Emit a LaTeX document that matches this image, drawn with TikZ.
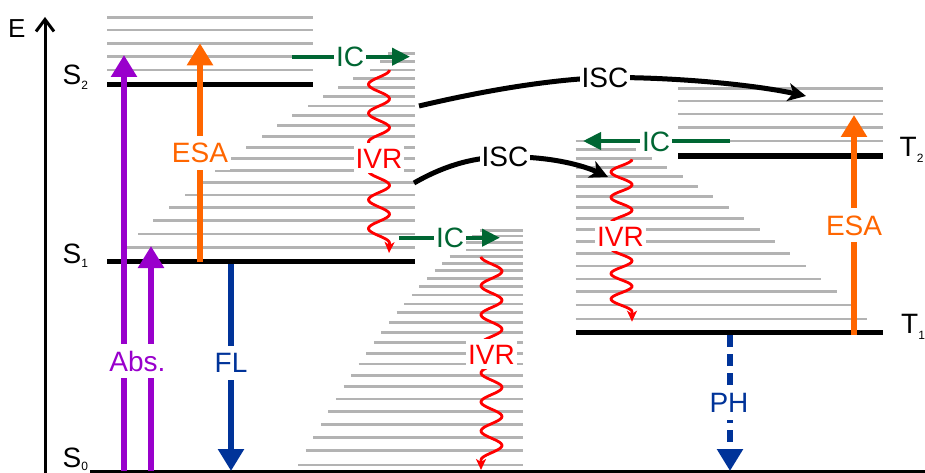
\documentclass[tikz,border=0pt]{standalone}
\usepackage{fontspec}
\setmainfont{Liberation Sans}
\usetikzlibrary{arrows.meta}

\definecolor{absviolet}{HTML}{9900CC}
\definecolor{esaorange}{HTML}{FF6600}
\definecolor{emblue}{HTML}{003399}
\definecolor{icgreen}{HTML}{006633}
\definecolor{ivrred}{HTML}{FF0000}
\definecolor{vibgray}{HTML}{B3B3B3}

\begin{document}
\begin{tikzpicture}[x=1pt,y=-1pt,
  vib/.style={vibgray, line width=2.8pt},
  level/.style={black, line width=5.5pt},
  lbl/.style={font=\fontsize{28}{28}\selectfont, fill=white, inner xsep=2pt, inner ysep=7pt,
              text height=20pt, text depth=0pt},
  smalllbl/.style={lbl, inner ysep=4pt},
  statelbl/.style={font=\fontsize{28}{28}\selectfont, inner sep=0pt, anchor=base west},
  radiative/.style={line width=6.5pt, -{Triangle[width=25pt,length=22pt]}},
  icarrow/.style={icgreen, line width=4pt, -{Triangle[width=17pt,length=18pt]}},
  iscarrow/.style={black, line width=5pt, -{Stealth[width=18pt,length=18pt,inset=5pt]}},
  ivrwave/.style={ivrred, line width=2.8pt, -{Stealth[width=10pt,length=11pt,inset=3pt]}},
]
\useasboundingbox (0,0) rectangle (925,473);

% ---------- vibrational sublevels ----------
% S2 manifold
\foreach \y in {17.3,30,43.3,56.7,70}
  \draw[vib] (107,\y) -- (313,\y);
% S1 manifold (staircase towards lower left)
\foreach \y/\l in {53.3/388,61.7/380,70/370,78.3/353,87.3/338,96.7/323,106/308,115.7/292,
                   125.7/277,136.3/262,147.3/246,158.7/231,170.3/215,182.3/202,195/185,
                   207.7/169,220.3/153,234/138,247.3/127}
  \draw[vib] (\l,\y) -- (415,\y);
% S0 manifold
\foreach \y [count=\i from 0] in {230.7,236,242.7,250,256.7,263.3,270.7,278.7,286.7,295,304,
                                  312.7,322.7,332.3,342.7,353.3,364,375.3,386.7,399,411.7,
                                  424.3,437.3,450.7,465}
  \draw[vib] ({480-7.58*\i},\y) -- (523,\y);
% T2 manifold
\foreach \y in {88.3,101,114,127.7,141}
  \draw[vib] (678,\y) -- (883,\y);
% T1 manifold (staircase towards lower right)
\foreach \y [count=\i from 0] in {141,149.3,158.3,167.3,176.7,186.7,196.7,207.3,218.3,229.3,
                                  241.7,253.3,266,279,291.7,305,319}
  \draw[vib] (575.7,\y) -- ({621+15.4*\i},\y);

% ---------- electronic levels ----------
\coordinate (S2w) at (107,84.3);  \coordinate (S2e) at (313,84.3);
\coordinate (S1w) at (107,261.5); \coordinate (S1e) at (415,261.5);
\coordinate (T2w) at (678,156);   \coordinate (T2e) at (883,156);
\coordinate (T1w) at (575.7,332.3); \coordinate (T1e) at (883,332.3);
\coordinate (S0w) at (90,471);    \coordinate (S0e) at (925,471);
\draw[level] (S2w) -- (S2e);
\draw[level] (S1w) -- (S1e);
\draw[level] (T2w) -- (T2e);
\draw[level] (T1w) -- (T1e);
\draw[black, line width=3pt] (S0w) -- (S0e);

% ---------- energy axis ----------
\coordinate (Ebot) at (45,473); \coordinate (Etop) at (45,17);
\draw[line width=3pt, -{Straight Barb[length=12pt,width=18pt]}] (Ebot) -- (Etop);
\node[statelbl, font=\fontsize{26}{26}\selectfont] (lE) at (8,38) {E};

% state labels
\node[statelbl] (lS2) at (62.5,85)  {S\raisebox{-5pt}{\fontsize{12}{12}\selectfont 2}};
\node[statelbl] (lS1) at (62.5,263) {S\raisebox{-4pt}{\fontsize{12}{12}\selectfont 1}};
\node[statelbl] (lS0) at (62.5,467.5) {S\raisebox{-3pt}{\fontsize{12}{12}\selectfont 0}};
\node[statelbl] (lT2) at (899.5,157) {T\raisebox{-6pt}{\fontsize{12}{12}\selectfont 2}};
\node[statelbl] (lT1) at (901,333)   {T\raisebox{-6pt}{\fontsize{12}{12}\selectfont 1}};

% ---------- radiative transitions ----------
\coordinate (absAb) at (124,471);  \coordinate (absAt) at (124,55);
\coordinate (absBb) at (151,471);  \coordinate (absBt) at (151,246);
\draw[radiative, absviolet] (absAb) -- (absAt);
\draw[radiative, absviolet] (absBb) -- (absBt);
\node[lbl, text=absviolet] (labs) at (137.5,361) {Abs.};

\coordinate (esaLb) at (200,261.5); \coordinate (esaLt) at (200,43.3);
\draw[radiative, esaorange] (esaLb) -- (esaLt);
\node[lbl, text=esaorange] (lesaL) at (200,153) {ESA};

\coordinate (flt) at (231,264); \coordinate (flb) at (231,471);
\draw[radiative, emblue] (flt) -- (flb);
\node[lbl, text=emblue] (lfl) at (231,362.5) {FL};

\coordinate (esaRb) at (854,335); \coordinate (esaRt) at (854,115);
\draw[radiative, esaorange] (esaRb) -- (esaRt);
\node[lbl, text=esaorange] (lesaR) at (854,225) {ESA};

\coordinate (pht) at (730,335); \coordinate (phb) at (730,471);
\draw[radiative, emblue, dash pattern=on 12pt off 7pt] (pht) -- (phb);
\node[lbl, text=emblue] (lph) at (729,402.5) {PH};

% ---------- internal conversion ----------
\coordinate (ic1s) at (292,56.7);  \coordinate (ic1e) at (410,56.7);
\coordinate (ic2s) at (399,237.7); \coordinate (ic2e) at (500,237.7);
\coordinate (ic3s) at (730,141);   \coordinate (ic3e) at (583,141);
\draw[icarrow] (ic1s) -- (ic1e);
\draw[icarrow] (ic2s) -- (ic2e);
\draw[icarrow] (ic3s) -- (ic3e);
\node[smalllbl, text=icgreen] (lic1) at (350,56.7) {IC};
\node[smalllbl, text=icgreen] (lic2) at (450,237.5) {IC};
\node[smalllbl, text=icgreen] (lic3) at (656,141.5) {IC};

% ---------- intersystem crossing ----------
\coordinate (isc1s) at (419,106); \coordinate (isc1m) at (605,77.5); \coordinate (isc1e) at (806,96);
\draw[iscarrow] (isc1s) .. controls (470,94) and (540,80) .. (isc1m)
                        .. controls (670,77) and (750,84) .. (isc1e);
\node[smalllbl] (lisc1) at (isc1m) {ISC};

\coordinate (isc2s) at (414,183); \coordinate (isc2m) at (505,157); \coordinate (isc2e) at (608,177);
\draw[iscarrow] (isc2s) .. controls (440,168) and (470,157) .. (isc2m)
                        .. controls (545,156) and (580,164) .. (isc2e);
\node[smalllbl] (lisc2) at (isc2m) {ISC};

% ---------- vibrational relaxation ----------
\coordinate (ivr1e) at (389,253);
\draw[ivrwave] plot[domain=70:243, samples=140, variable=\t]
  ({379+10.5*cos(((\t-70)/28.833)*360)}, \t) -- (ivr1e);
\node[lbl, inner ysep=5pt, text=ivrred] (livr1) at (379,158) {IVR};

\coordinate (ivr2e) at (481,470);
\draw[ivrwave] plot[domain=256.7:460, samples=160, variable=\t]
  ({491.5-10.5*cos(((\t-256.7)/29.043)*360)}, \t) -- (ivr2e);
\node[lbl, inner ysep=5pt, text=ivrred] (livr2) at (491.5,354) {IVR};

\coordinate (ivr3e) at (632,321.7);
\draw[ivrwave] plot[domain=159.3:311.7, samples=130, variable=\t]
  ({621.5+10.5*cos(((\t-159.3)/25.4)*360)}, \t) -- (ivr3e);
\node[lbl, inner ysep=5pt, text=ivrred] (livr3) at (620.5,236) {IVR};

\end{tikzpicture}
\end{document}
